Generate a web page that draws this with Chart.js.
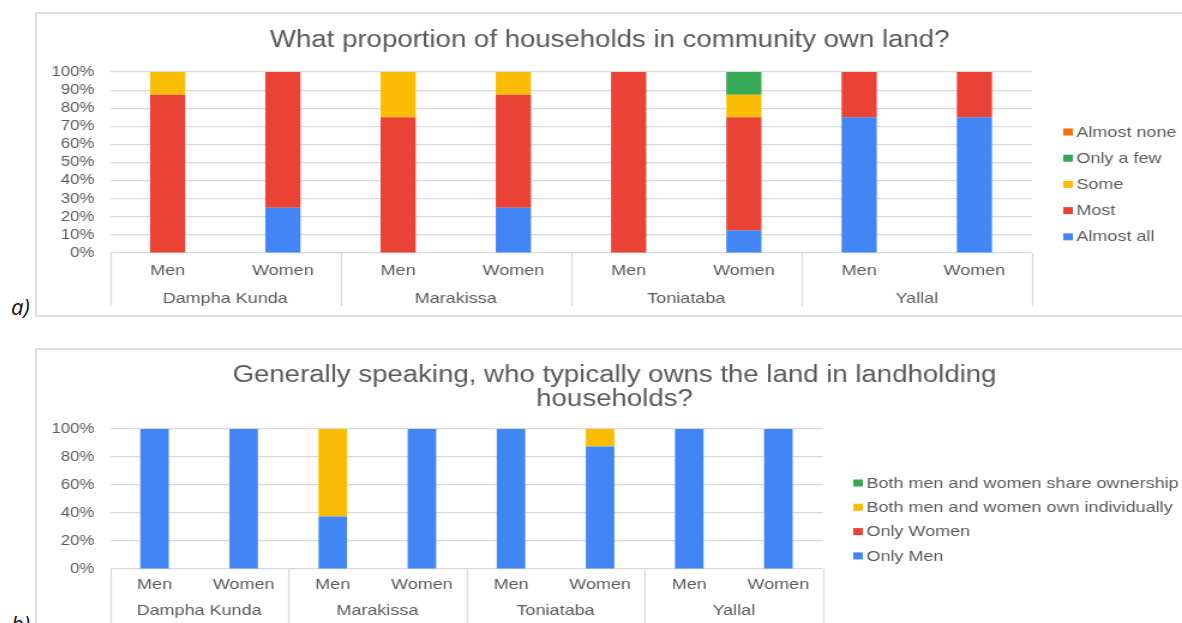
<!DOCTYPE html>
<html>
<head>
<meta charset="utf-8">
<script src="https://cdn.jsdelivr.net/npm/chart.js@4"></script>
<style>
  html, body { margin: 0; padding: 0; background: #fff; }
  body { width: 1182px; height: 623px; overflow: hidden; position: relative; }
  .frame { position: absolute; border: 2px solid #dedede; box-sizing: border-box; }
  .tag { position: absolute; font: italic 22px "Open Sans", sans-serif; color: #111; }
  canvas { position: absolute; }
</style>
</head>
<body>
<div class="frame" style="left:35px;top:12px;width:1170px;height:305px"></div>
<div class="frame" style="left:35px;top:348px;width:1170px;height:300px"></div>
<div class="tag" style="left:11px;top:291px">a)</div>
<div class="tag" style="left:11px;top:608px">b)</div>
<!-- drawn at 956 px wide and shown at 1147 px, so everything is widened 1.2x -->
<canvas id="chart-land-share" width="956" height="303" style="left:35px;top:13px;width:1147px;height:303px"></canvas>
<canvas id="chart-land-owner" width="956" height="275" style="left:35px;top:348px;width:1147px;height:275px"></canvas>
<script>
const villages = ['Dampha Kunda', 'Marakissa', 'Toniataba', 'Yallal'];
const respondents = ['Men', 'Women'];

// share of households owning land (stacked, %)
const almostAll  = [0, 25, 0, 25, 0, 12.5, 75, 75];
const most       = [87.5, 75, 75, 62.5, 100, 62.5, 25, 25];
const some       = [12.5, 0, 25, 12.5, 0, 12.5, 0, 0];
const onlyAFew   = [0, 0, 0, 0, 0, 12.5, 0, 0];
const almostNone = [0, 0, 0, 0, 0, 0, 0, 0];

// who owns the land (stacked, %)
const onlyMen          = [100, 100, 37.5, 100, 100, 87.5, 100, 100];
const onlyWomen        = [0, 0, 0, 0, 0, 0, 0, 0];
const bothIndividually = [0, 0, 62.5, 0, 0, 12.5, 0, 0];
const bothShare        = [0, 0, 0, 0, 0, 0, 0, 0];

const yTicksShare = [0, 10, 20, 30, 40, 50, 60, 70, 80, 90, 100];
const yTicksOwner = [0, 20, 40, 60, 80, 100];

const C = { blue: '#4285F4', red: '#EA4335', yellow: '#FBBC04', green: '#34A853', orange: '#FF6D01' };
const TEXT = '#595959';
const LINE = '#d9d9d9';
const FONT = '"Liberation Sans", Arial, sans-serif';

const labels = villages.flatMap(() => respondents);

// title, village row with its dividers, and the legend
const decor = {
  id: 'decor',
  afterDraw(chart, args, o) {
    const { ctx, chartArea: a, scales: { x } } = chart;
    ctx.save();
    ctx.fillStyle = TEXT;
    ctx.font = `23px ${FONT}`;
    ctx.textAlign = 'center';
    ctx.textBaseline = 'alphabetic';
    o.title.forEach((t, i) => ctx.fillText(t, o.titleX, o.titleY + i * 23.5));

    // dividers between villages
    ctx.strokeStyle = LINE;
    ctx.lineWidth = 1.2;
    ctx.beginPath();
    for (let i = 0; i <= villages.length; i++) {
      const px = Math.round(x.getPixelForValue(i * respondents.length - 0.5)) + 0.5;
      ctx.moveTo(px, a.bottom);
      ctx.lineTo(px, o.divEnd);
    }
    ctx.stroke();

    ctx.font = `15px ${FONT}`;
    ctx.textBaseline = 'middle';
    villages.forEach((v, i) => {
      const cx = x.getPixelForValue(i * respondents.length + (respondents.length - 1) / 2);
      ctx.fillText(v, cx, o.villageY);
    });

    // legend, last series on top
    ctx.textAlign = 'left';
    const ds = chart.data.datasets.slice().reverse();
    ds.forEach((d, i) => {
      const y = o.legendY + i * o.legendGap;
      ctx.fillStyle = d.backgroundColor;
      ctx.fillRect(o.legendX, y - 3.5, 8, 7);
      ctx.fillStyle = TEXT;
      ctx.fillText(d.label, o.legendX + 11, y + 0.5);
    });
    ctx.restore();
  }
};

function stackedChart(id, series, yTicks, opt) {
  return new Chart(document.getElementById(id), {
    type: 'bar',
    data: {
      labels,
      datasets: series.map(s => ({
        label: s.name, data: s.values, backgroundColor: s.color,
        barPercentage: opt.barPct, categoryPercentage: 1
      }))
    },
    options: {
      responsive: false,
      animation: false,
      devicePixelRatio: 1,
      layout: { padding: { left: 0, top: opt.top, right: opt.right, bottom: 0 } },
      plugins: {
        legend: { display: false },
        title: { display: false },
        tooltip: { enabled: false },
        decor: opt.decor
      },
      scales: {
        x: {
          stacked: true,
          grid: { display: false, drawTicks: false },
          border: { display: false },
          ticks: { color: TEXT, font: { family: FONT, size: 15 }, padding: opt.xPad, autoSkip: false, maxRotation: 0 },
          afterFit: s => { s.height = opt.xHeight; }
        },
        y: {
          stacked: true,
          min: 0,
          max: 100,
          afterBuildTicks: s => { s.ticks = yTicks.map(v => ({ value: v })); },
          ticks: { color: TEXT, font: { family: FONT, size: 14 }, padding: 13, autoSkip: false, callback: v => v + '%' },
          grid: { color: LINE, lineWidth: 1.2, drawTicks: false },
          border: { display: false },
          afterFit: s => { s.width = 62.5; }
        }
      }
    },
    plugins: [decor]
  });
}

stackedChart('chart-land-share', [
  { name: 'Almost all', values: almostAll, color: C.blue },
  { name: 'Most', values: most, color: C.red },
  { name: 'Some', values: some, color: C.yellow },
  { name: 'Only a few', values: onlyAFew, color: C.green },
  { name: 'Almost none', values: almostNone, color: C.orange }
], yTicksShare, {
  barPct: 0.305, top: 59, right: 125, xHeight: 63, xPad: 9,
  decor: {
    title: ['What proportion of households in community own land?'],
    titleX: 479, titleY: 34,
    divEnd: 293, villageY: 285.5,
    legendX: 857, legendY: 119, legendGap: 26.2
  }
});

stackedChart('chart-land-owner', [
  { name: 'Only Men', values: onlyMen, color: C.blue },
  { name: 'Only Women', values: onlyWomen, color: C.red },
  { name: 'Both men and women own individually', values: bothIndividually, color: C.yellow },
  { name: 'Both men and women share ownership', values: bothShare, color: C.green }
], yTicksOwner, {
  barPct: 0.32, top: 81, right: 299.3, xHeight: 54, xPad: 7,
  decor: {
    title: ['Generally speaking, who typically owns the land in landholding', 'households?'],
    titleX: 483, titleY: 34,
    divEnd: 275, villageY: 262.5,
    legendX: 682, legendY: 135, legendGap: 24.3
  }
});
</script>
</body>
</html>
